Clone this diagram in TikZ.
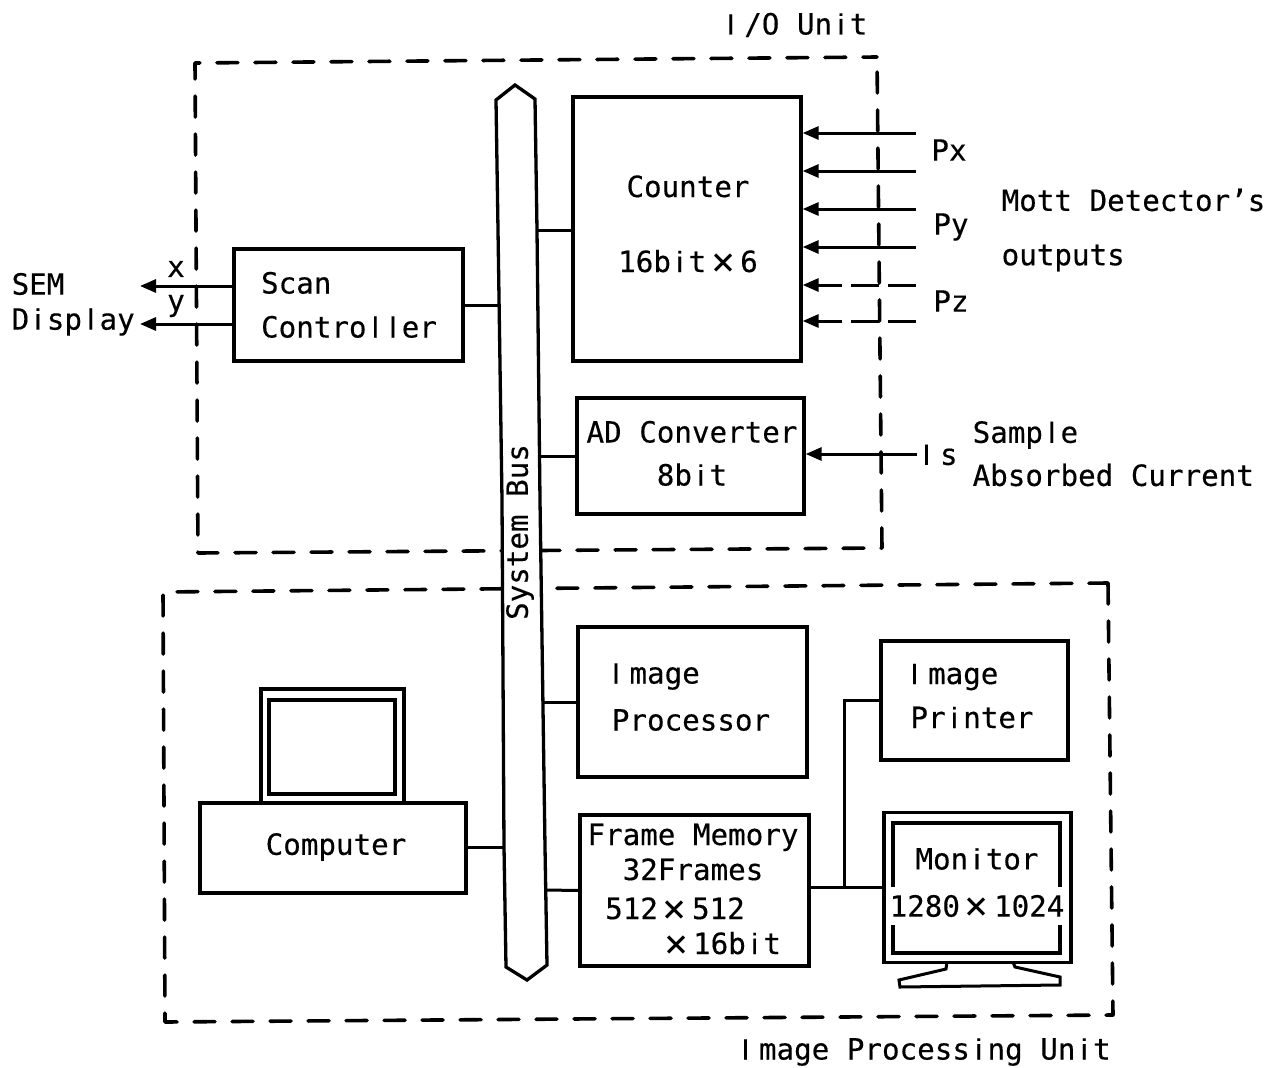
\documentclass[tikz,border=0pt]{standalone}
\usepackage{fontspec}
\setmainfont[FakeBold=0.35]{DejaVu Sans Mono}
\newfontfamily\barfont[FakeBold=0.35]{Liberation Sans}
\newfontfamily\crossfont{DejaVu Sans Mono}
\usetikzlibrary{arrows.meta}
\tikzset{
  x=1pt,y=-1pt,
  every path/.style={line width=3.3pt,line join=miter},
  boxn/.style={draw,rectangle,inner sep=0pt},
  txtn/.style={inner sep=0pt,align=left,font=\txt},
  ioframe/.style={line width=3.6pt,line cap=round,line join=round,dash pattern=on 21pt off 17pt,dash phase=23pt},
  ipframe/.style={line width=3.6pt,line cap=round,line join=round,dash pattern=on 21pt off 17pt,dash phase=0pt},
  wire/.style={line width=3pt},
  thickscreen/.style={line width=4pt},
  arrowline/.style={line width=3pt,-{Triangle[length=16pt,width=13pt]}},
  brokenline/.style={arrowline,dash pattern=on 28pt off 9pt on 28pt off 9pt on 100pt off 0pt},
}
\newcommand{\txt}{\fontsize{29.2}{35}\selectfont}
\newcommand{\tm}{\hspace{5pt}\raisebox{-3pt}[0pt][0pt]{\crossfont\fontsize{40}{35}\selectfont ×}\hspace{5pt}}
\newcommand{\bI}{\makebox[17.6pt][l]{\barfont I}}
\newcommand{\bl}{\makebox[17.6pt]{\barfont l}}
\newcommand{\bi}{\makebox[17.6pt]{\barfont i}}
\newcommand{\stackL}[3]{\begin{tabular}{@{}l@{}}#2\\[#1]#3\end{tabular}}
\newcommand{\stackC}[3]{\begin{tabular}{@{}c@{}}#2\\[#1]#3\end{tabular}}
\begin{document}
\begin{tikzpicture}
\useasboundingbox (0,0) rectangle (1286,1068);
% unit frames
\draw[ioframe] (877,57) -- (882,548) -- (198,553) -- (195,63) -- (877,57);
\draw[ipframe] (1108,583) -- (1113,1015) -- (165,1022) -- (163,592) -- (1108,583);
% system bus
\draw[fill=white] (515,85) -- (535,99) -- (537,230) -- (540,500) -- (545,847) -- (547,965) -- (527,980) -- (506,967) -- (504,847) -- (502,500) -- (498,230) -- (496,100) -- cycle;
\node[txtn,rotate=90] (bus) at (520,532) {System Bus};
% boxes
\node[boxn,minimum width=229pt,minimum height=112pt] (scan) at (348.5,305) {};
\node[boxn,minimum width=228pt,minimum height=264pt] (counter) at (687,229) {};
\node[boxn,minimum width=227pt,minimum height=116pt] (ad) at (690.5,456) {};
\node[boxn,minimum width=229pt,minimum height=150pt] (proc) at (692.5,702) {};
\node[boxn,minimum width=229pt,minimum height=151pt] (frame) at (694.5,890.5) {};
\node[boxn,minimum width=187pt,minimum height=119pt] (printer) at (974.5,700.5) {};
\node[boxn,minimum width=187pt,minimum height=150pt] (monitor) at (977.5,887.5) {};
\node[boxn,minimum width=266pt,minimum height=90pt] (computer) at (333,848) {};
% box texts
\node[txtn] (scanT) at (349,308.5) {\stackL{9pt}{Scan}{Contro\bl\bl er}};
\node[txtn] (counterT) at (688,227.5) {\stackC{40pt}{Counter}{16b\bi t\tm 6}};
\node[txtn] (adT) at (692,457) {\stackC{8pt}{AD Converter}{8b\bi t}};
\node[txtn] (procT) at (691,700) {\stackL{12pt}{\bI mage}{Processor}};
\node[txtn] (frameT) at (693,892.5) {\begin{tabular}{@{}c@{}}Frame Memory\\[0pt]32Frames\\[4pt]512\tm 512\hspace*{36pt}\\[0pt]\hspace*{54pt}\tm 16b\bi t\end{tabular}};
\node[txtn] (printerT) at (972,699) {\stackL{9pt}{\bI mage}{Pr\bi nter}};
\node[txtn] (computerT) at (336,847) {Computer};
% computer screen
\draw (261,802) -- (261,689) -- (404,689) -- (404,802);
\draw[thickscreen] (269,794) rectangle (395,700);
% monitor inner screen and stand
\draw[thickscreen] (893,887) -- (893,823) -- (1060,823) -- (1060,887);
\draw[thickscreen] (893,925) -- (893,953) -- (1060,953) -- (1060,925);
\draw[line width=3pt] (947,962) -- (946,969) -- (899,980) -- (900,987) -- (1060,985) -- (1060,977) -- (1015,967) -- (1013,962);
\node[txtn] (monres) at (977,906) {1280\tm 1024};
\node[txtn] (monlab) at (977,859) {Mon\bi tor};
% free ends
\coordinate (semx) at (140,286);
\coordinate (semy) at (140,324);
\coordinate (p1) at (916,133);
\coordinate (p2) at (916,171);
\coordinate (p3) at (916,209);
\coordinate (p4) at (916,247);
\coordinate (p5) at (916,285);
\coordinate (p6) at (916,321);
\coordinate (is) at (917,454);
\coordinate (branch) at (844,887);
\coordinate (busScan) at (500,305);
\coordinate (busCounter) at (537,230);
\coordinate (busAd) at (540,456);
\coordinate (busProc) at (543,702);
\coordinate (busComp) at (504,847);
\coordinate (busFrame) at (546,890);
% connectors
\draw[wire] (scan.east) -- (busScan);
\draw[wire] (counter.west |- busCounter) -- (busCounter);
\draw[wire] (ad.west) -- (busAd);
\draw[wire] (proc.west) -- (busProc);
\draw[wire] (computer.east |- busComp) -- (busComp);
\draw[wire] (frame.west) -- (busFrame);
\draw[wire] (frame.east |- monitor) -- (monitor.west);
\draw[wire] (branch) -- (branch |- printer) -- (printer.west);
\draw[arrowline] (scan.west |- semx) -- (semx);
\draw[arrowline] (scan.west |- semy) -- (semy);
\draw[arrowline] (p1) -- (counter.east |- p1);
\draw[arrowline] (p2) -- (counter.east |- p2);
\draw[arrowline] (p3) -- (counter.east |- p3);
\draw[arrowline] (p4) -- (counter.east |- p4);
\draw[brokenline] (p5) -- (counter.east |- p5);
\draw[brokenline] (p6) -- (counter.east |- p6);
\draw[arrowline] (is) -- (ad.east |- is);
% labels
\node[txtn] (iou) at (797,25) {\bI/O Un\bi t};
\node[txtn,anchor=west] (sem) at (10,284) {SEM};
\node[txtn,anchor=west] (disp) at (10,322) {D\bi sp\bl ay};
\node[txtn] (xl) at (176,269) {x};
\node[txtn] (yl) at (176,306) {y};
\node[txtn] (px) at (949,150) {Px};
\node[txtn] (py) at (951,227) {Py};
\node[txtn] (pz) at (951,301) {Pz};
\node[txtn,anchor=west] (mott) at (1000,200) {Mott Detector's};
\node[txtn,anchor=west] (outp) at (1000,258) {outputs};
\node[txtn] (isl) at (940,455) {\bI s};
\node[txtn,anchor=west] (samp) at (971,435) {Samp\bl e};
\node[txtn,anchor=west] (abs) at (971,475) {Absorbed Current};
\node[txtn] (ipu) at (926,1052) {\bI mage Process\bi ng Un\bi t};
\end{tikzpicture}
\end{document}
